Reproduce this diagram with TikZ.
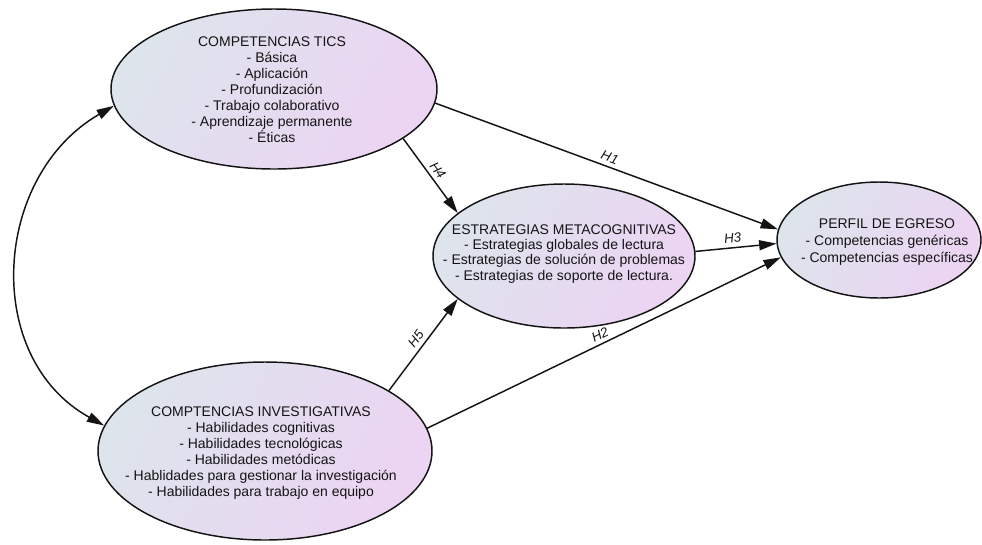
\documentclass[tikz,border=0pt]{standalone}
\usepackage{fontspec}
\setmainfont{Liberation Sans}
\usetikzlibrary{shapes.geometric,arrows.meta}
\definecolor{fillA}{RGB}{221,228,236}
\definecolor{fillB}{RGB}{236,212,243}
\definecolor{ink}{RGB}{20,20,20}
\begin{document}
\begin{tikzpicture}[x=0.75pt,y=-0.75pt,
  construct/.style={ellipse, draw=ink, line width=1.1pt,
    top color=fillA, bottom color=fillB, shading angle=60, inner sep=0pt},
  body/.style={align=center, inner sep=0pt, text=ink,
    font=\fontsize{10.5}{12}\selectfont},
  path/.style={draw=ink, line width=1.1pt,
    -{Triangle[length=13pt,width=7.5pt]}},
  hyp/.style={sloped, above, inner sep=3pt, text=ink,
    font=\fontsize{10}{12}\selectfont\itshape}
]
\path[use as bounding box] (0,0) rectangle (982,544);

% constructs
\node[construct, minimum width=326pt*0.75, minimum height=160pt*0.75] (tics) at (274,89) {};
\node[construct, minimum width=334pt*0.75, minimum height=178pt*0.75] (inv) at (265,451) {};
\node[construct, minimum width=262pt*0.75, minimum height=144pt*0.75] (meta) at (564,256) {};
\node[construct, minimum width=204pt*0.75, minimum height=116pt*0.75] (perfil) at (879,240) {};

% construct descriptions
\node[body] (ticsT) at (272,90) {COMPETENCIAS TICS\\- Básica\\- Aplicación\\- Profundización\\- Trabajo colaborativo\\- Aprendizaje permanente\\- Éticas};
\node[body] (invT) at (261,453) {COMPTENCIAS INVESTIGATIVAS\\- Habilidades cognitivas\\- Habilidades tecnológicas\\- Habilidades metódicas\\- Hablidades para gestionar la investigación\\- Habilidades para trabajo en equipo};
\node[body, font=\fontsize{10.5}{11.3}\selectfont] (metaT) at (564,254) {ESTRATEGIAS METACOGNITIVAS\\- Estrategias globales de lectura\\- Estrategias de solución de problemas\\- Estrategias de soporte de lectura.};
\node[body, font=\fontsize{10.5}{12.6}\selectfont] (perfilT) at (887,242) {PERFIL DE EGRESO\\- Competencias genéricas\\- Competencias específicas};

% hypothesised paths
\draw[path] (tics.-5) -- node[hyp] {H1} (perfil.174);
\draw[path] (inv.8) -- node[hyp] {H2} (perfil.-170);
\draw[path] (meta.2) -- node[hyp, pos=0.47] {H3} (perfil.-178);
\draw[path] (tics.-21) -- node[hyp] {H4} (meta.158);
\draw[path] (inv.26) -- node[hyp] {H5} (meta.-158);

% correlation between exogenous constructs
\draw[draw=ink, line width=1.1pt,
  {Triangle[length=13pt,width=7.5pt]}-{Triangle[length=13pt,width=7.5pt]}]
  (tics.186) to[out=210, in=151, looseness=1.12] (inv.171);
\end{tikzpicture}
\end{document}
